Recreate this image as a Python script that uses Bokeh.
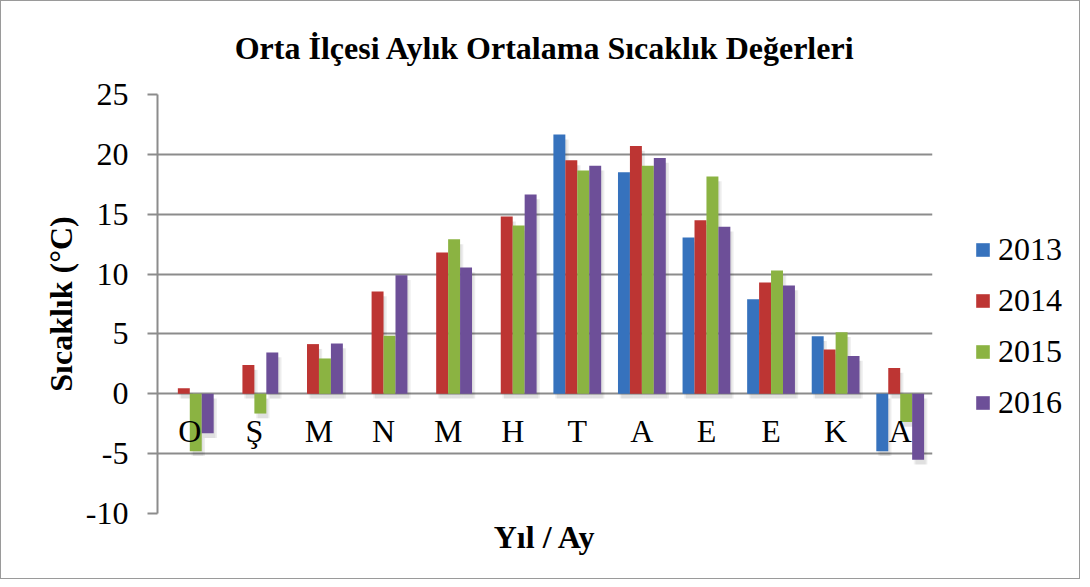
import math
from bokeh.plotting import figure
from bokeh.models import (FactorRange, Range1d, ColumnDataSource, Legend, LegendItem,
                          FixedTicker, Title, Row)
from bokeh.transform import dodge
from bokeh.core.properties import value
from bokeh.embed import file_html
from bokeh.resources import INLINE

NaN = float("nan")

# ---- data -------------------------------------------------------------
months = ["O", "Ş", "M", "N", "M", "H", "T", "A", "E", "E", "K", "A"]
years = ["2013", "2014", "2015", "2016"]
v2013 = [NaN, NaN, NaN, NaN, NaN, NaN, 21.65, 18.5, 13.05, 7.9, 4.8, -4.8]
v2014 = [0.47, 2.4, 4.15, 8.55, 11.8, 14.8, 19.5, 20.7, 14.5, 9.3, 3.7, 2.15]
v2015 = [-4.8, -1.65, 2.95, 4.85, 12.9, 14.05, 18.65, 19.05, 18.15, 10.3, 5.15, -2.35]
v2016 = [-3.3, 3.45, 4.2, 9.9, 10.55, 16.65, 19.05, 19.7, 13.95, 9.05, 3.15, -5.5]
y_ticks = [-10, -5, 0, 5, 10, 15, 20, 25]
y_tick_labels = ["-10", "-5", "0", "5", "10", "15", "20", "25"]
title_text = "Orta İlçesi Aylık Ortalama Sıcaklık Değerleri"
y_title = "Sıcaklık (°C)"
x_title = "Yıl / Ay"

series = [v2013, v2014, v2015, v2016]
colors = ["#3672BD", "#BD3533", "#8BB342", "#6D4F98"]

FONT = "Liberation Serif"
keys = [str(i) for i in range(len(months))]

H = 577
p = figure(width=933, height=H, output_backend="svg", toolbar_location=None,
           x_range=FactorRange(*keys, range_padding=0), y_range=Range1d(-10, 25),
           min_border_left=156, min_border_right=2, min_border_top=93,
           min_border_bottom=65)

p.title.text = title_text
p.title.text_font = FONT
p.title.text_font_size = "32px"
p.title.text_font_style = "bold"
p.title.text_color = "#000000"
p.title.align = "center"
p.title.vertical_align = "top"
p.title.standoff = 54
p.title.offset = 0

p.add_layout(Title(text=x_title, align="center", text_font=FONT, text_color="#000000",
                   text_font_size="32px", text_font_style="bold", standoff=7), "below")

p.outline_line_color = None
p.xgrid.grid_line_color = None
p.ygrid.grid_line_color = "#8c8c8c"
p.ygrid.grid_line_width = 2
p.xaxis.visible = False

ya = p.yaxis[0]
ya.ticker = FixedTicker(ticks=y_ticks)
ya.major_label_overrides = {t: s for t, s in zip(y_ticks, y_tick_labels)}
ya.axis_line_color = "#8c8c8c"
ya.axis_line_width = 2
ya.major_tick_line_color = "#8c8c8c"
ya.major_tick_line_width = 2
ya.major_tick_out = 10
ya.major_tick_in = 0
ya.minor_tick_line_color = None
ya.major_label_text_font = FONT
ya.major_label_text_font_size = "32px"
ya.major_label_text_color = "#000000"
ya.major_label_standoff = 19
ya.axis_label = y_title
ya.axis_label_text_font = FONT
ya.axis_label_text_font_size = "32px"
ya.axis_label_text_font_style = "bold"
ya.axis_label_text_color = "#000000"
ya.axis_label_standoff = 4

bw = 0.185
offsets = [-1.5 * bw, -0.5 * bw, 0.5 * bw, 1.5 * bw]

for vals, col, off in zip(series, colors, offsets):
    sh_top = [(max(v, 0) - 0.4) if not math.isnan(v) else NaN for v in vals]
    sh_bot = [(min(v, 0) - 0.4) if not math.isnan(v) else NaN for v in vals]
    src = ColumnDataSource(dict(m=keys, top=list(vals), st=sh_top, sb=sh_bot))
    p.vbar(x=dodge("m", off + 0.05, range=p.x_range), top="st", bottom="sb", width=bw,
           source=src, fill_color="#000000", fill_alpha=0.07, line_color=None)
    p.vbar(x=dodge("m", off + 0.025, range=p.x_range), top="st", bottom="sb", width=bw,
           source=src, fill_color="#000000", fill_alpha=0.05, line_color=None)
    p.vbar(x=dodge("m", off, range=p.x_range), top="top", bottom=0, width=bw,
           source=src, fill_color=col, line_color=None)

lab_src = ColumnDataSource(dict(m=keys, t=months, y=[-3.1] * len(keys)))
p.text(x="m", y="y", text="t", source=lab_src, text_font=value(FONT),
       text_font_size="32px", text_align="center", text_baseline="middle",
       text_color="#000000")

# ---- legend panel -----------------------------------------------------
lf = figure(width=145, height=H, output_backend="svg", toolbar_location=None,
            x_axis_type=None, y_axis_type=None, min_border=0,
            x_range=Range1d(0, 1), y_range=Range1d(0, 1))
lf.outline_line_color = None
lf.grid.visible = False
items = []
for col, yr in zip(colors, years):
    # zero-height proxy bar: only carries the legend swatch style
    r = lf.vbar(x=[0.5], top=[0], bottom=[0], width=0.1, fill_color=col, line_color=None)
    items.append(LegendItem(label=yr, renderers=[r]))
legend = Legend(items=items, location=(40, 92), padding=0, margin=0,
                border_line_color=None, background_fill_alpha=0,
                glyph_width=17, glyph_height=17, label_standoff=7,
                label_height=36, label_text_font=FONT, label_text_font_size="32px",
                label_text_color="#000000",
                label_text_baseline="middle", spacing=14)
lf.add_layout(legend, "center")

layout = Row(children=[p, lf], spacing=0,
             styles={"border": "1px solid #9a9a9a"})

open("out.html", "w").write(file_html(layout, INLINE))
